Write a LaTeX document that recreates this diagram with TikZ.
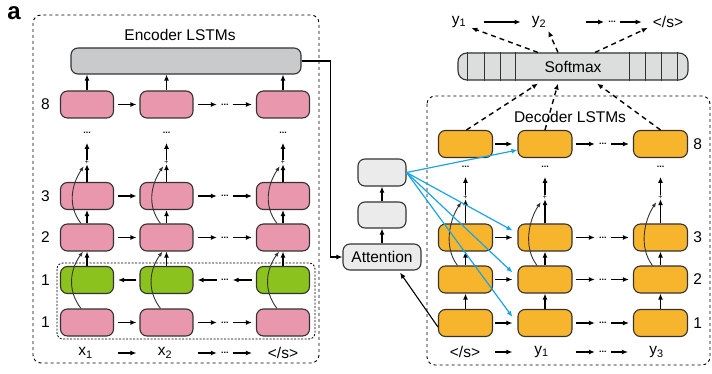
\documentclass[tikz,border=0pt]{standalone}
\usepackage{fontspec}
\setmainfont{Liberation Sans}
\usepackage{tikz}
\usetikzlibrary{arrows.meta,positioning,calc}

\definecolor{lstmpink}{HTML}{E897AD}
\definecolor{lstmgreen}{HTML}{8CC21E}
\definecolor{lstmorange}{HTML}{F7B52D}
\definecolor{bargray}{HTML}{C9CACB}
\definecolor{softgray}{HTML}{DCDDDD}
\definecolor{attgray}{HTML}{EBEBEB}
\definecolor{attblue}{HTML}{1AA3E8}
\definecolor{edge}{HTML}{333333}

\tikzset{
  cell/.style={draw=edge, line width=1.1pt, rounded corners=7pt, minimum width=53pt, minimum height=27pt, inner sep=0pt},
  arr/.style={-{Latex[length=6pt,width=5pt]}, line width=1.4pt},
  res/.style={-{Latex[length=5pt,width=4pt]}, line width=0.9pt, draw=edge},
  dasharr/.style={arr, dash pattern=on 5pt off 4pt},
  attarr/.style={arr, draw=attblue, line width=1.2pt},
  lbl/.style={font=\fontsize{15.5}{18}\selectfont, inner sep=0pt},
  dots/.style={font=\fontsize{9}{9}\selectfont\bfseries, inner sep=0pt},
  plus/.style={font=\fontsize{7}{7}\selectfont, inner sep=0pt},
}

\begin{document}
\begin{tikzpicture}[x=1pt,y=-1pt]
    \useasboundingbox (0,0) rectangle (712,374);
    \node[font=\fontsize{24}{24}\selectfont\bfseries, inner sep=0pt] (tag) at (14,13) {a};

    % Encoder
    \draw[dashed, line width=0.9pt, rounded corners=8pt] (33,15) rectangle (319,363);
    \node[lbl] (enctitle) at (180,35) {Encoder LSTMs};
    \node[cell, fill=bargray, minimum width=230pt, minimum height=26pt] (enc) at (186,61) {};
    \draw[dash pattern=on 2pt off 1.5pt, line width=0.8pt, rounded corners=6pt] (57,263) rectangle (315,339); % bi-directional layer

    \foreach \c/\x in {a/87,b/166.5,c/283} {
        \node[cell, fill=lstmpink] (e\c8) at (\x,104.5) {};
        \node[cell, fill=lstmpink] (e\c3) at (\x,196) {};
        \node[cell, fill=lstmpink] (e\c2) at (\x,237.5) {};
        \node[cell, fill=lstmgreen] (e\c g) at (\x,280) {};
        \node[cell, fill=lstmpink] (e\c1) at (\x,322.5) {};
        \node[plus] (ep\c) at (\x,162) {+};
        \node[dots] (ev\c) at (\x,133) {...};
        \draw[arr] (e\c g) -- (e\c2);
        \draw[arr] (e\c2) -- (e\c3);
        \draw[arr] (e\c3) -- (ep\c);
        \draw[arr] (ep\c) -- ([yshift=-9pt]ev\c.south);
        \draw[arr] (e\c8) -- (e\c8 |- enc.south);
        % residual connections
        \draw[res] ([xshift=-6pt]e\c1.north) .. controls +(-14,-18) and +(-13,18) .. ([xshift=-4pt]e\c2.south);
        \draw[res] ([xshift=-6pt]e\c2.north) .. controls +(-14,-18) and +(-12,18) .. ([xshift=-1pt,yshift=-2pt]ep\c.south west);
    }

    \foreach \r in {8,3,2,1} {
        \draw[arr] ([xshift=4pt]ea\r.east) -- ([xshift=-3pt]eb\r.west);
        \node[dots] (eh\r) at ($(eb\r.east)!0.5!(ec\r.west)$) {...};
        \draw[arr] ([xshift=4pt]eb\r.east) -- ([xshift=-4pt]eh\r.west);
        \draw[arr] ([xshift=4pt]eh\r.east) -- ([xshift=-4pt]ec\r.west);
    }
    \draw[arr] ([xshift=-3pt]ebg.west) -- ([xshift=4pt]eag.east);
    \node[dots] (ehg) at ($(ebg.east)!0.5!(ecg.west)$) {...};
    \draw[arr] ([xshift=-4pt]ecg.west) -- ([xshift=4pt]ehg.east);
    \draw[arr] ([xshift=-4pt]ehg.west) -- ([xshift=4pt]ebg.east);

    \node[lbl, left=10pt of ea8] (n8) {8};
    \node[lbl, left=10pt of ea3] (n3) {3};
    \node[lbl, left=10pt of ea2] (n2) {2};
    \node[lbl, left=10pt of eag] (n1b) {1};
    \node[lbl, left=10pt of ea1] (n1) {1};

    \node[lbl] (xa) at (85.5,353) {x\textsubscript{1}};
    \node[lbl] (xb) at (165,353) {x\textsubscript{2}};
    \node[lbl] (xc) at (283,353) {</s>};
    \node[dots] (xh) at (eh1 |- xa) {...};
    \draw[arr] ($(ea1.east |- xa)+(4,0)$) -- ($(eb1.west |- xa)+(-3,0)$);
    \draw[arr] ($(eb1.east |- xa)+(4,0)$) -- ([xshift=-4pt]xh.west);
    \draw[arr] ([xshift=4pt]xh.east) -- ($(ec1.west |- xa)+(-4,0)$);

    % Attention
    \node[cell, fill=attgray, minimum width=48pt] (att3) at (382,172.5) {};
    \node[cell, fill=attgray, minimum width=48pt, minimum height=26pt] (att2) at (382,215) {};
    \node[cell, fill=attgray, minimum width=78pt, minimum height=26pt, lbl] (att) at (382,257) {Attention};
    \draw[arr] (att) -- (att2);
    \draw[arr] (att2) -- (att3);
    \draw[arr, line width=1.1pt] (enc.east) -- ++(29,0) |- (att.west);

    % Decoder
    \draw[dashed, line width=0.9pt, rounded corners=8pt] (427,96) rectangle (710,365);
    \node[lbl] (dectitle) at (570,117) {Decoder LSTMs};

    \foreach \c/\x in {a/465.5,b/545,c/660.5} {
        \node[cell, fill=lstmorange, minimum width=54pt] (d\c8) at (\x,144) {};
        \node[cell, fill=lstmorange, minimum width=54pt] (d\c3) at (\x,237.5) {};
        \node[cell, fill=lstmorange, minimum width=54pt] (d\c2) at (\x,279.5) {};
        \node[cell, fill=lstmorange, minimum width=54pt] (d\c1) at (\x,323) {};
        \node[plus] (dp\c) at (\x,197) {+};
        \node[dots] (dv\c) at (\x,167) {...};
        \draw[arr] (d\c1) -- (d\c2);
        \draw[arr] (d\c2) -- (d\c3);
        \draw[arr] (d\c3) -- (dp\c);
        \draw[arr] (dp\c) -- ([yshift=-9pt]dv\c.south);
        \draw[res] ([xshift=-8pt]d\c2.north) .. controls +(-14,-18) and +(-12,18) .. ([xshift=-2pt,yshift=-3pt]dp\c.south west);
    }

    \foreach \r in {8,3,2,1} {
        \draw[arr] ([xshift=2pt]da\r.east) -- ([xshift=-5pt]db\r.west);
        \node[dots] (dh\r) at ($(db\r.east)!0.5!(dc\r.west)$) {...};
        \draw[arr] ([xshift=3pt]db\r.east) -- ([xshift=-4pt]dh\r.west);
        \draw[arr] ([xshift=4pt]dh\r.east) -- ([xshift=-4pt]dc\r.west);
    }

    \node[lbl, right=5pt of dc8] (m8) {8};
    \node[lbl, right=5pt of dc3] (m3) {3};
    \node[lbl, right=5pt of dc2] (m2) {2};
    \node[lbl, right=5pt of dc1] (m1) {1};

    \node[lbl] (ya) at (465,352) {</s>};
    \node[lbl] (yb) at (541.5,352) {y\textsubscript{1}};
    \node[lbl] (yc) at (656.5,352) {y\textsubscript{3}};
    \node[dots] (yh) at (dh1 |- ya) {...};
    \draw[arr] ($(da1.east |- ya)+(2,0)$) -- ($(db1.west |- ya)+(-5,0)$);
    \draw[arr] ($(db1.east |- ya)+(3,0)$) -- ([xshift=-4pt]yh.west);
    \draw[arr] ([xshift=4pt]yh.east) -- ($(dc1.west |- ya)+(-5,0)$);

    % attention context to decoder
    \draw[attarr] (att3.east) -- ([yshift=-6pt]db8.west);
    \draw[attarr] (att3.east) -- ([xshift=-5pt,yshift=7pt]db3.west);
    \draw[attarr] (att3.east) -- ([xshift=-5pt,yshift=7pt]db2.west);
    \draw[attarr] (att3.east) -- ([xshift=-5pt,yshift=6pt]db1.west);
    \draw[arr, line width=1.1pt] ([yshift=-4pt]da1.west) -- ([xshift=18pt,yshift=-2pt]att.south);

    % Softmax and outputs
    \node[cell, fill=softgray, minimum width=230pt, minimum height=27pt, rounded corners=9pt, lbl] (soft) at (573,66.5) {Softmax};
    \foreach \d in {10,27,43,58} {
        \draw[line width=1pt, edge] ([xshift=\d pt]soft.north west) -- ([xshift=\d pt]soft.south west);
    }
    \foreach \d in {11,27,43,59} {
        \draw[line width=1pt, edge] ([xshift=-\d pt]soft.north east) -- ([xshift=-\d pt]soft.south east);
    }

    \node[lbl] (ty1) at (459,22) {y\textsubscript{1}};
    \node[lbl] (ty2) at (539,22) {y\textsubscript{2}};
    \node[lbl] (tend) at (668,22) {</s>};
    \node[dots] (th) at (612,22) {...};
    \draw[arr] ([xshift=18pt]ty1.east) -- ([xshift=-11pt]ty2.west);
    \draw[arr] ([xshift=40pt]ty2.east) -- ([xshift=-4pt]th.west);
    \draw[arr] ([xshift=4pt]th.east) -- ([xshift=-11pt]tend.west);

    \draw[dasharr] ([xshift=-35pt]soft.north) -- ([xshift=5pt]ty1.south east);
    \draw[dasharr] ([xshift=-15pt]soft.north) -- ([xshift=2pt,yshift=-3pt]ty2.south east);
    \draw[dasharr] ([xshift=22pt]soft.north) -- ([xshift=-5pt]tend.south west);
    \draw[dasharr] ([xshift=1pt]da8.north) -- ([xshift=-35pt,yshift=-3pt]soft.south);
    \draw[dasharr] (db8.north) -- ([xshift=-15pt,yshift=-3pt]soft.south);
    \draw[dasharr] (dc8.north) -- ([xshift=24pt,yshift=-3pt]soft.south);
\end{tikzpicture}
\end{document}
